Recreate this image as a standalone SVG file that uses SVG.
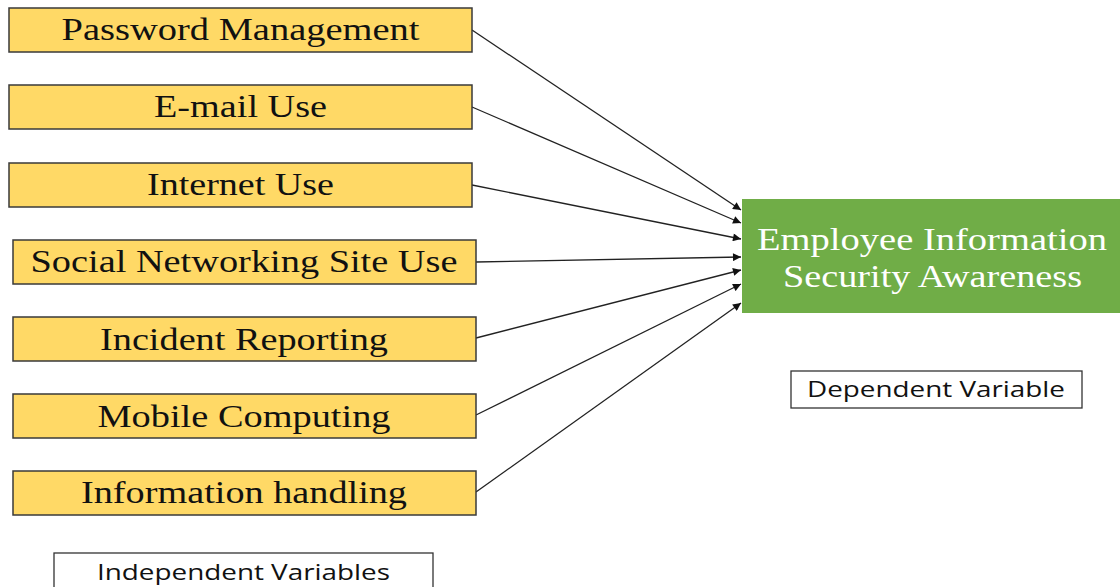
<svg xmlns="http://www.w3.org/2000/svg" width="1120" height="587" viewBox="0 0 1120 587">
<style>
.iv{fill:#FFD966;stroke:#3a3a3a;stroke-width:1.5}
.ivt{font-family:"Liberation Serif","Times New Roman",serif;font-size:31px;fill:#111;text-anchor:middle}
.dv{fill:#70AD47;stroke:none}
.dvt{font-family:"Liberation Serif","Times New Roman",serif;font-size:32px;fill:#fff;text-anchor:middle}
.lab{fill:#fff;stroke:#333;stroke-width:1.3}
.labt{font-family:"Open Sans","Liberation Sans",sans-serif;font-size:22px;fill:#111;text-anchor:middle}
.con{stroke:#222;stroke-width:1.3;fill:none;marker-end:url(#ah)}
</style>
<defs>
<marker id="ah" viewBox="0 0 10 10" refX="10" refY="5" markerWidth="10" markerHeight="8" markerUnits="userSpaceOnUse" orient="auto">
<path d="M0,0 L10,5 L0,10 z" fill="#111"/>
</marker>
</defs>
<rect width="1120" height="587" fill="#fff"/>
<g id="connectors">
<line class="con" x1="472" y1="30" x2="741" y2="210"/>
<line class="con" x1="472" y1="107" x2="741" y2="223"/>
<line class="con" x1="472" y1="185" x2="741" y2="239"/>
<line class="con" x1="476" y1="262" x2="741" y2="257"/>
<line class="con" x1="476" y1="338" x2="741" y2="270"/>
<line class="con" x1="476" y1="415" x2="741" y2="284"/>
<line class="con" x1="476" y1="492" x2="741" y2="303"/>
</g>
<g id="n1"><rect class="iv" x="9" y="8" width="463" height="44"/><text class="ivt" x="240.5" y="40" textLength="358" lengthAdjust="spacingAndGlyphs">Password Management</text></g>
<g id="n2"><rect class="iv" x="9" y="85" width="463" height="44"/><text class="ivt" x="240.5" y="117" textLength="173" lengthAdjust="spacingAndGlyphs">E-mail Use</text></g>
<g id="n3"><rect class="iv" x="9" y="163" width="463" height="44"/><text class="ivt" x="240.5" y="195" textLength="187" lengthAdjust="spacingAndGlyphs">Internet Use</text></g>
<g id="n4"><rect class="iv" x="13" y="240" width="463" height="44"/><text class="ivt" x="244" y="272" textLength="427" lengthAdjust="spacingAndGlyphs">Social Networking Site Use</text></g>
<g id="n5"><rect class="iv" x="13" y="317" width="463" height="44"/><text class="ivt" x="244" y="350" textLength="288" lengthAdjust="spacingAndGlyphs">Incident Reporting</text></g>
<g id="n6"><rect class="iv" x="13" y="394" width="463" height="44"/><text class="ivt" x="244" y="427" textLength="293" lengthAdjust="spacingAndGlyphs">Mobile Computing</text></g>
<g id="n7"><rect class="iv" x="13" y="471" width="463" height="44"/><text class="ivt" x="244" y="503" textLength="326" lengthAdjust="spacingAndGlyphs">Information handling</text></g>
<g id="dep"><rect class="dv" x="742" y="199" width="380" height="114"/>
<text class="dvt" x="932" y="250" textLength="350" lengthAdjust="spacingAndGlyphs">Employee Information</text>
<text class="dvt" x="932.5" y="287" textLength="299" lengthAdjust="spacingAndGlyphs">Security Awareness</text></g>
<g id="deplabel"><rect class="lab" x="791" y="371" width="291" height="37"/><text class="labt" x="936" y="397" textLength="258" lengthAdjust="spacingAndGlyphs">Dependent Variable</text></g>
<g id="indlabel"><rect class="lab" x="54" y="553" width="379" height="40"/><text class="labt" x="243.5" y="580" textLength="293" lengthAdjust="spacingAndGlyphs">Independent Variables</text></g>
</svg>
